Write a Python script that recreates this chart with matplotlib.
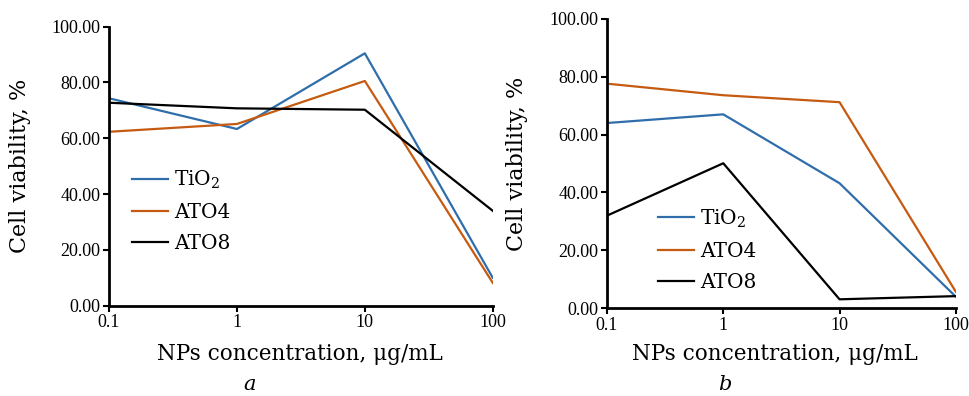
import numpy as np
import matplotlib
matplotlib.use("Agg")
import matplotlib.pyplot as plt
from matplotlib.ticker import FormatStrFormatter

plt.rcParams['font.family'] = 'DejaVu Serif'
plt.rcParams['mathtext.fontset'] = 'dejavuserif'

# concentrations, ug/mL
conc = [0.1, 1, 10, 100]
series_names = ['TiO$_2$', 'ATO4', 'ATO8']
colors = ['#2f6eaa', '#c55a11', '#000000']

# panel a
tio2_a = [74.3, 63.3, 90.4, 10.0]
ato4_a = [62.3, 65.1, 80.5, 8.2]
ato8_a = [72.7, 70.7, 70.2, 34.0]

# panel b
tio2_b = [64.0, 67.0, 43.2, 4.0]
ato4_b = [77.6, 73.6, 71.2, 5.7]
ato8_b = [32.0, 50.1, 3.1, 4.2]

yticks = [0, 20, 40, 60, 80, 100]
xticklabels = ['0.1', '1', '10', '100']

fig = plt.figure(figsize=(9.69, 3.96), dpi=100)
ax_a = fig.add_axes([0.1125, 0.228, 0.396, 0.705])
ax_b = fig.add_axes([0.6264, 0.2215, 0.360, 0.731])


def style(ax, data, leg_pos, letter, ylab_x, xlab_pos, letter_pos):
    for vals, name, c in zip(data, series_names, colors):
        ax.plot(conc, vals, color=c, lw=1.6, label=name)
    ax.set_xscale('log')
    ax.set_xlim(0.1, 100)
    ax.set_ylim(0, 100)
    ax.set_xticks(conc)
    ax.set_xticklabels(xticklabels)
    ax.minorticks_off()
    ax.set_yticks(yticks)
    ax.yaxis.set_major_formatter(FormatStrFormatter('%.2f'))
    for s in ['top', 'right']:
        ax.spines[s].set_visible(False)
    for s in ['left', 'bottom']:
        ax.spines[s].set_linewidth(2)
    ax.tick_params(width=1.5, length=4, labelsize=13, pad=2)
    for lab in ax.get_xticklabels() + ax.get_yticklabels():
        lab.set_fontfamily('Liberation Serif')
    ax.set_xlabel('NPs concentration, μg/mL', fontsize=15.5)
    ax.xaxis.set_label_coords(*xlab_pos)
    ax.xaxis.label.set_va('center')
    ax.set_ylabel('Cell viability, %', fontsize=16)
    ax.yaxis.set_label_coords(ylab_x, 0.5)
    ax.yaxis.label.set_va('center')
    ax.legend(loc='upper left', bbox_to_anchor=leg_pos, frameon=False,
              fontsize=14.5, handlelength=1.8, handletextpad=0.3,
              labelspacing=0.6, borderaxespad=0)
    ax.text(letter_pos[0], letter_pos[1], letter, transform=ax.transAxes,
            style='italic', fontsize=15, ha='center', va='center')


style(ax_a, [tio2_a, ato4_a, ato8_a], (0.039, 0.52), 'a', -0.232,
      (0.497, -0.173), (0.367, -0.284))
style(ax_b, [tio2_b, ato4_b, ato8_b], (0.123, 0.377), 'b', -0.258,
      (0.48, -0.158), (0.338, -0.265))

fig.savefig('out.png', dpi=100)
